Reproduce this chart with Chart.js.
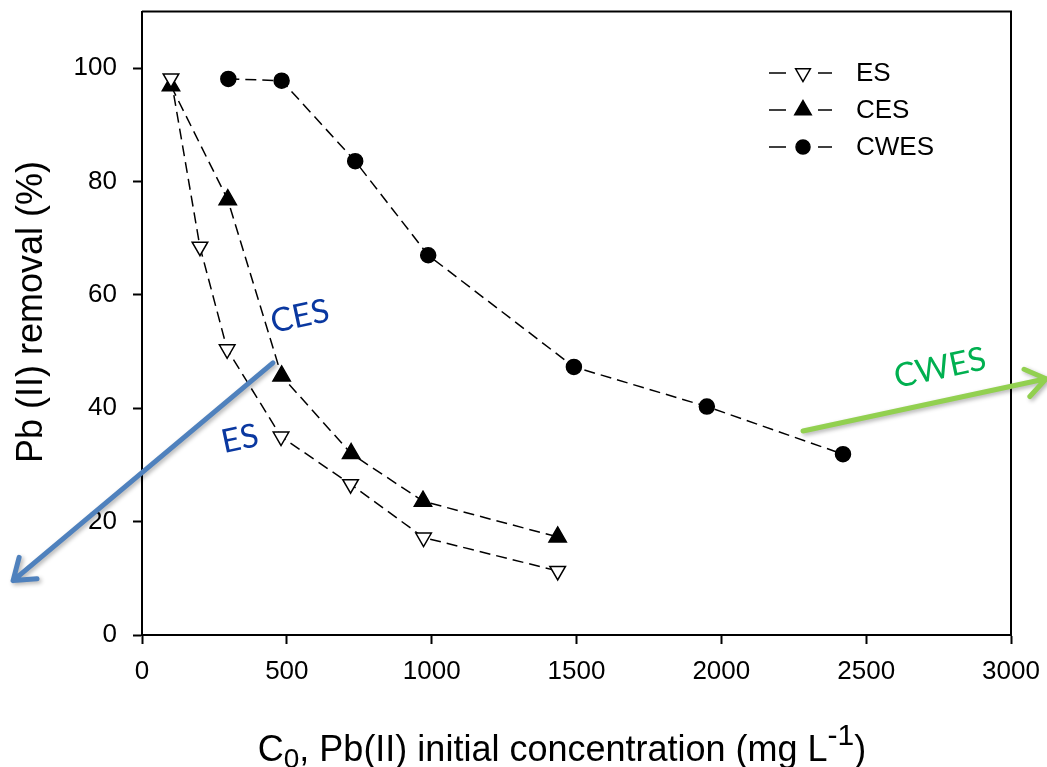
<!DOCTYPE html>
<html>
<head>
<meta charset="utf-8">
<script src="https://cdn.jsdelivr.net/npm/chart.js@4.4.1/dist/chart.umd.min.js"></script>
<style>
  html, body { margin: 0; background: #fff; }
  #wrap { width: 1047px; height: 767px; }
</style>
</head>
<body>
<div id="wrap"><canvas id="chart"></canvas></div>
<script>
// data
const xTicks = [0, 500, 1000, 1500, 2000, 2500, 3000];
const yTicks = [0, 20, 40, 60, 80, 100];

const esX = [100, 200, 294, 480, 720, 972, 1435];
const esY = [98.2, 68.5, 50.4, 35.0, 26.6, 17.2, 11.3];

const cesX = [100, 296, 482, 722, 970, 1435];
const cesY = [96.9, 76.8, 45.7, 32.0, 23.6, 17.3];

const cwesX = [298, 482, 736, 988, 1491, 1950, 2420];
const cwesY = [98.1, 97.8, 83.6, 67.0, 47.3, 40.3, 31.9];

const seriesNames = ["ES", "CES", "CWES"];

// callouts (data coordinates)
const blueArrow = { from: [452, 48.0], to: [-445, 9.6] };
const greenArrow = { from: [2282, 36.0], to: [3121, 45.2] };
const callouts = [
  { text: "CES", at: [545, 56.2], color: "#0a38a0" },
  { text: "ES", at: [338, 34.6], color: "#0a38a0" },
  { text: "CWES", at: [2755, 47.1], color: "#00b050" }
];

const font = "'Liberation Sans', Arial, sans-serif";

function pts(xs, ys) {
  return xs.map((x, i) => ({ x: x, y: ys[i] }));
}

const styles = [
  { pointStyle: "triangle", rotation: 180, radius: 9, fill: "#fff" },
  { pointStyle: "triangle", rotation: 0, radius: 10, fill: "#000" },
  { pointStyle: "circle", rotation: 0, radius: 7.5, fill: "#000" }
];

const dataSets = [pts(esX, esY), pts(cesX, cesY), pts(cwesX, cwesY)].map((d, i) => ({
  label: seriesNames[i],
  data: d,
  showLine: true,
  borderColor: "#000",
  borderWidth: 1.5,
  borderDash: [11, 6],
  pointStyle: styles[i].pointStyle,
  rotation: styles[i].rotation,
  pointRadius: styles[i].radius,
  pointHoverRadius: styles[i].radius,
  pointBackgroundColor: styles[i].fill,
  pointBorderColor: "#000",
  pointBorderWidth: 1.5
}));

function arrow(ctx, x1, y1, x2, y2, color) {
  const ang = Math.atan2(y2 - y1, x2 - x1);
  const len = 24, spread = 0.62;
  ctx.save();
  ctx.strokeStyle = color;
  ctx.lineWidth = 5;
  ctx.lineCap = "round";
  ctx.lineJoin = "round";
  ctx.shadowColor = "rgba(0,0,0,0.3)";
  ctx.shadowBlur = 4;
  ctx.shadowOffsetX = 2;
  ctx.shadowOffsetY = 2;
  ctx.beginPath();
  ctx.moveTo(x1, y1);
  ctx.lineTo(x2, y2);
  ctx.moveTo(x2 - len * Math.cos(ang - spread), y2 - len * Math.sin(ang - spread));
  ctx.lineTo(x2, y2);
  ctx.lineTo(x2 - len * Math.cos(ang + spread), y2 - len * Math.sin(ang + spread));
  ctx.stroke();
  ctx.restore();
}

const extras = {
  id: "extras",
  afterDraw(chart) {
    const ctx = chart.ctx;
    const a = chart.chartArea;
    const xs = chart.scales.x, ys = chart.scales.y;

    // top and right frame
    ctx.save();
    ctx.strokeStyle = "#000";
    ctx.lineWidth = 2;
    ctx.beginPath();
    ctx.moveTo(a.left, a.top);
    ctx.lineTo(a.right, a.top);
    ctx.lineTo(a.right, a.bottom);
    ctx.stroke();
    ctx.restore();

    // legend
    ctx.save();
    seriesNames.forEach((name, i) => {
      const y = 73 + i * 37;
      ctx.strokeStyle = "#000";
      ctx.lineWidth = 1.5;
      ctx.beginPath();
      ctx.moveTo(769, y); ctx.lineTo(786, y);
      ctx.moveTo(818, y); ctx.lineTo(832, y);
      ctx.stroke();
      ctx.fillStyle = styles[i].fill;
      Chart.helpers.drawPoint(ctx, {
        pointStyle: styles[i].pointStyle,
        rotation: styles[i].rotation,
        radius: styles[i].radius - 0.5,
        borderWidth: 1.5
      }, 803, y);
      ctx.fillStyle = "#000";
      ctx.font = "26px " + font;
      ctx.textAlign = "left";
      ctx.textBaseline = "middle";
      ctx.fillText(name, 856, y + 1);
    });
    ctx.restore();

    // axis titles
    ctx.save();
    ctx.fillStyle = "#000";
    ctx.font = "36px " + font;
    ctx.textAlign = "center";
    ctx.textBaseline = "alphabetic";
    ctx.translate(42, 312);
    ctx.rotate(-Math.PI / 2);
    ctx.fillText("Pb (II) removal (%)", 0, 0);
    ctx.restore();

    ctx.save();
    ctx.fillStyle = "#000";
    ctx.textBaseline = "alphabetic";
    ctx.textAlign = "left";
    const parts = [
      { t: "C", size: 36, dy: 0 },
      { t: "0", size: 28, dy: 7 },
      { t: ", Pb(II) initial concentration (mg L", size: 36, dy: 0 },
      { t: "-1", size: 30, dy: -16 },
      { t: ")", size: 36, dy: 0 }
    ];
    let w = 0;
    parts.forEach(p => { ctx.font = p.size + "px " + font; p.w = ctx.measureText(p.t).width; w += p.w; });
    let x = 562 - w / 2;
    parts.forEach(p => {
      ctx.font = p.size + "px " + font;
      ctx.fillText(p.t, x, 761 + p.dy);
      x += p.w;
    });
    ctx.restore();

    // callout arrows and labels
    arrow(ctx, xs.getPixelForValue(blueArrow.from[0]), ys.getPixelForValue(blueArrow.from[1]),
      xs.getPixelForValue(blueArrow.to[0]), ys.getPixelForValue(blueArrow.to[1]), "#4f81bd");
    arrow(ctx, xs.getPixelForValue(greenArrow.from[0]), ys.getPixelForValue(greenArrow.from[1]),
      xs.getPixelForValue(greenArrow.to[0]), ys.getPixelForValue(greenArrow.to[1]), "#92d050");

    callouts.forEach(c => {
      ctx.save();
      ctx.fillStyle = c.color;
      ctx.font = "33px Lato, 'Open Sans', sans-serif";
      ctx.textAlign = "center";
      ctx.textBaseline = "middle";
      ctx.translate(xs.getPixelForValue(c.at[0]), ys.getPixelForValue(c.at[1]));
      ctx.rotate(-12 * Math.PI / 180);
      ctx.fillText(c.text, 0, 0);
      ctx.restore();
    });
  }
};

new Chart(document.getElementById("chart"), {
  type: "scatter",
  data: { datasets: dataSets },
  options: {
    responsive: true,
    maintainAspectRatio: false,
    animation: false,
    layout: { padding: { left: 0, top: 9, right: 36, bottom: 0 } },
    plugins: { legend: { display: false }, tooltip: { enabled: false } },
    scales: {
      x: {
        type: "linear",
        min: 0,
        max: 3000,
        afterBuildTicks: s => { s.ticks = xTicks.map(v => ({ value: v })); },
        afterFit: s => { s.height = 132; s.paddingLeft = 0; s.paddingRight = 0; },
        ticks: { color: "#000", font: { family: font, size: 26 }, padding: 12, maxRotation: 0,
          callback: v => String(v) },
        grid: { drawOnChartArea: false, tickLength: 9, tickWidth: 2, tickColor: "#000" },
        border: { color: "#000", width: 2 }
      },
      y: {
        type: "linear",
        min: 0,
        max: 110,
        afterBuildTicks: s => { s.ticks = yTicks.map(v => ({ value: v })); },
        afterFit: s => { s.width = 142; s.paddingTop = 0; s.paddingBottom = 0; },
        ticks: { color: "#000", font: { family: font, size: 26 }, padding: 16,
          callback: v => String(v) },
        grid: { drawOnChartArea: false, tickLength: 9, tickWidth: 2, tickColor: "#000" },
        border: { color: "#000", width: 2 }
      }
    }
  },
  plugins: [extras]
});
</script>
</body>
</html>
